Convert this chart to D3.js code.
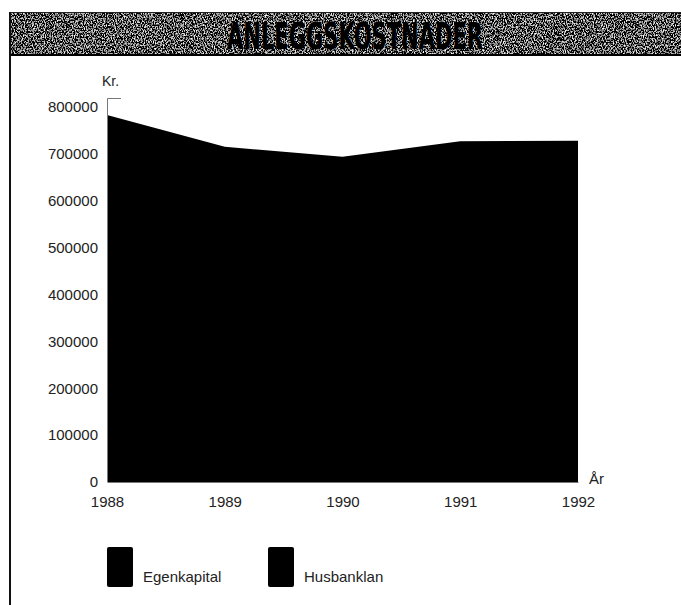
<!DOCTYPE html>
<html>
<head>
<meta charset="utf-8">
<script src="https://cdn.jsdelivr.net/npm/d3@7/dist/d3.min.js"></script>
<style>
  html, body { margin: 0; padding: 0; background: #fff; }
  svg { display: block; }
  text { font-family: "Liberation Sans", Arial, sans-serif; }
</style>
</head>
<body>
<svg id="chart" width="681" height="605"></svg>
<script>
// Anleggskostnader 1988–1992, kroner (Egenkapital + Husbanklån, stablet)
const years = [1988, 1989, 1990, 1991, 1992];
const totalKost = [783000, 715000, 694000, 727000, 728000];
const yTicks = [0, 100000, 200000, 300000, 400000, 500000, 600000, 700000, 800000];
const seriesNames = ["Egenkapital", "Husbanklan"];
const seriesColors = ["#000000", "#000000"];
const title = "ANLEGGSKOSTNADER";

const svg = d3.select("#chart");

// grainy dark title band
const defs = svg.append("defs");
const grain = defs.append("filter")
  .attr("id", "grain")
  .attr("filterUnits", "userSpaceOnUse")
  .attr("x", 10).attr("y", 12).attr("width", 671).attr("height", 44);
grain.append("feTurbulence")
  .attr("type", "fractalNoise")
  .attr("baseFrequency", "0.9 0.6")
  .attr("numOctaves", 2)
  .attr("seed", 7)
  .attr("result", "noise");
grain.append("feColorMatrix")
  .attr("in", "noise")
  .attr("type", "matrix")
  .attr("values", "3.2 0 0 0 -1.5  3.2 0 0 0 -1.5  3.2 0 0 0 -1.5  0 0 0 0 1");

svg.append("rect")
  .attr("x", 10).attr("y", 12).attr("width", 671).attr("height", 44)
  .attr("fill", "#333")
  .attr("filter", "url(#grain)");
svg.append("line")
  .attr("x1", 10).attr("x2", 681).attr("y1", 55).attr("y2", 55)
  .attr("stroke", "#000").attr("stroke-width", 2);
svg.append("line")
  .attr("x1", 10).attr("x2", 681).attr("y1", 12.5).attr("y2", 12.5)
  .attr("stroke", "#222").attr("stroke-width", 1);

svg.append("text")
  .attr("x", 355).attr("y", 49)
  .attr("text-anchor", "middle")
  .attr("textLength", 256)
  .attr("lengthAdjust", "spacingAndGlyphs")
  .style("font-family", "'DejaVu Sans Condensed', 'Liberation Sans Narrow', 'DejaVu Sans', sans-serif")
  .style("font-weight", "bold")
  .style("font-size", "38px")
  .attr("fill", "#000")
  .text(title);

// left page rule
svg.append("line")
  .attr("x1", 10).attr("x2", 10).attr("y1", 12).attr("y2", 605)
  .attr("stroke", "#111").attr("stroke-width", 2);

// scales
const x = d3.scaleLinear().domain([years[0], years[years.length - 1]]).range([107, 578]);
const y = d3.scaleLinear().domain([0, 800000]).range([482, 107]);

// stacked cost area (both series drawn in black)
const rows = years.map((yr, i) => ({ year: yr, total: totalKost[i] }));
const area = d3.area()
  .x(d => x(d.year))
  .y0(y(0))
  .y1(d => y(d.total));

svg.append("path")
  .datum(rows)
  .attr("d", area)
  .attr("fill", "#000");

// y axis
const yAxis = d3.axisLeft(y).tickValues(yTicks).tickSize(0).tickPadding(9).tickFormat(d3.format("d"));
const gy = svg.append("g").attr("transform", "translate(107,0)").call(yAxis);
gy.select(".domain").remove();
gy.selectAll("text")
  .style("font-family", "'Liberation Sans', Arial, sans-serif")
  .style("font-size", "15px")
  .attr("fill", "#222");

svg.append("path")
  .attr("d", `M121,98.5H107.5V${y(0)}`)
  .attr("fill", "none")
  .attr("stroke", "#777")
  .attr("stroke-width", 1);

// x axis
const xAxis = d3.axisBottom(x).tickValues(years).tickSize(0).tickPadding(14).tickFormat(d3.format("d"));
const gx = svg.append("g").attr("transform", `translate(0,${y(0)})`).call(xAxis);
gx.select(".domain").attr("stroke", "#777");
gx.selectAll("text")
  .style("font-family", "'Liberation Sans', Arial, sans-serif")
  .style("font-size", "15px")
  .attr("fill", "#222");

// axis titles
svg.append("text")
  .attr("x", 102).attr("y", 86)
  .style("font-size", "14px")
  .attr("fill", "#222")
  .text("Kr.");
svg.append("text")
  .attr("x", 589).attr("y", 484)
  .style("font-size", "15px")
  .attr("fill", "#222")
  .text("År");

// legend
const legendX = [107, 268];
const leg = svg.append("g");
seriesNames.forEach((name, i) => {
  leg.append("rect")
    .attr("x", legendX[i]).attr("y", 547)
    .attr("width", 26).attr("height", 40)
    .attr("rx", 2)
    .attr("fill", seriesColors[i]);
  leg.append("text")
    .attr("x", legendX[i] + 36).attr("y", 582)
    .style("font-size", "15px")
    .attr("fill", "#222")
    .text(name);
});
</script>
</body>
</html>
